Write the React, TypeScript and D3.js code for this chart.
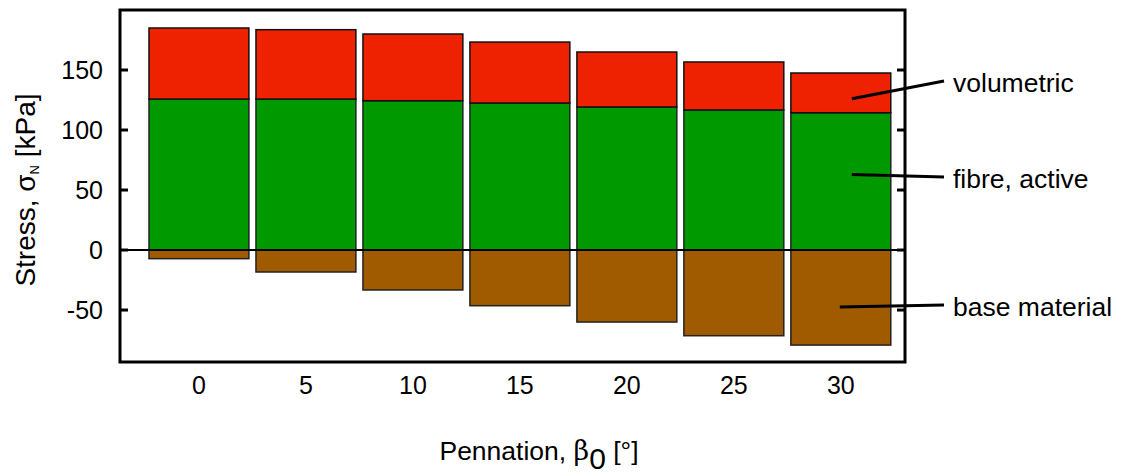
import React from 'react';
import * as d3 from 'd3';

// pennation angle (deg) per bar
const pennation = [0, 5, 10, 15, 20, 25, 30];
// stress contributions in kPa
const fibreActive = [125.8, 125.8, 124.4, 122.5, 119.2, 116.7, 114.4];
const volumetric = [59.2, 57.8, 55.6, 50.8, 45.8, 40.0, 33.1];
const baseMaterial = [-7.2, -18.3, -33.3, -46.4, -60.0, -71.4, -79.2];
const yTicks = [-50, 0, 50, 100, 150];

const labels = [
  { text: 'volumetric', series: 'volumetric', at: 0.35, ty: 82 },
  { text: 'fibre, active', series: 'fibre', at: 0.55, ty: 178 },
  { text: 'base material', series: 'base', at: 0.6, ty: 306 },
];

const colors: Record<string, string> = {
  volumetric: '#ee2200',
  fibre: '#009900',
  base: '#a05a00',
};

export default function App() {
  const width = 1125;
  const height = 476;
  const left = 120, right = 905, top = 10, bottom = 362;
  const font = 'Liberation Sans, Arial, sans-serif';

  const x = d3.scaleLinear().domain([-3.69, 33]).range([left, right]);
  const y = d3.scaleLinear().domain([-93.3, 200]).range([bottom, top]);
  const barW = x(4.67) - x(0);

  const rows = pennation.map((p, i) => ({
    p,
    base: baseMaterial[i],
    fibre: fibreActive[i],
    vol: volumetric[i],
  }));

  const last = rows[rows.length - 1];
  const anchorY = (s: string, at: number) => {
    if (s === 'volumetric') return y(last.fibre + last.vol * at);
    if (s === 'fibre') return y(last.fibre * at);
    return y(last.base * at);
  };

  return (
    <svg width={width} height={height} style={{ display: 'block', position: 'absolute', left: 0, top: 0 }}>
      <rect width={width} height={height} fill="#fff" />
      {rows.map(d => (
        <g key={d.p}>
          <rect x={x(d.p) - barW / 2} width={barW} y={y(0)} height={y(d.base) - y(0)}
            fill={colors.base} stroke="#222" strokeWidth={1.5} />
          <rect x={x(d.p) - barW / 2} width={barW} y={y(d.fibre)} height={y(0) - y(d.fibre)}
            fill={colors.fibre} stroke="#222" strokeWidth={1.5} />
          <rect x={x(d.p) - barW / 2} width={barW} y={y(d.fibre + d.vol)} height={y(d.fibre) - y(d.fibre + d.vol)}
            fill={colors.volumetric} stroke="#111" strokeWidth={1.5} />
        </g>
      ))}
      {/* zero line */}
      <line x1={left} x2={right} y1={y(0)} y2={y(0)} stroke="#000" strokeWidth={2} />
      {/* frame */}
      <rect x={left} y={top} width={right - left} height={bottom - top} fill="none" stroke="#000" strokeWidth={3} />
      {yTicks.map(t => (
        <g key={t}>
          <line x1={left} x2={left + 8} y1={y(t)} y2={y(t)} stroke="#000" strokeWidth={3} />
          <line x1={right - 8} x2={right} y1={y(t)} y2={y(t)} stroke="#000" strokeWidth={3} />
          <text x={103} y={y(t)} dy="0.36em" textAnchor="end" fontFamily={font} fontSize={25}>{t}</text>
        </g>
      ))}
      {pennation.map(p => (
        <text key={p} x={x(p)} y={385} dy="0.36em" textAnchor="middle" fontFamily={font} fontSize={25}>{p}</text>
      ))}
      {labels.map(l => {
        const lx = x(last.p) + (l.series === 'base' ? -1 : 11);
        const ly = anchorY(l.series, l.at);
        return (
          <g key={l.text}>
            <line x1={lx} y1={ly} x2={944} y2={l.ty - 1} stroke="#000" strokeWidth={3} />
            <text x={953} y={l.ty} dy="0.36em" fontFamily={font} fontSize={26.5}>{l.text}</text>
          </g>
        );
      })}
      <text x={539} y={460} textAnchor="middle" fontFamily={font} fontSize={26.5}>
        Pennation, <tspan fontFamily="DejaVu Serif, serif" fontSize={27}>β</tspan>
        <tspan fontSize={30} dy={9}>0</tspan>
        <tspan dy={-9}> [°]</tspan>
      </text>
      <text transform={`translate(35, ${y(50)}) rotate(-90)`} textAnchor="middle" fontFamily={font} fontSize={28}>
        Stress, σ<tspan fontSize={13} dy={4}>N</tspan><tspan dy={-4}> [kPa]</tspan>
      </text>
    </svg>
  );
}
